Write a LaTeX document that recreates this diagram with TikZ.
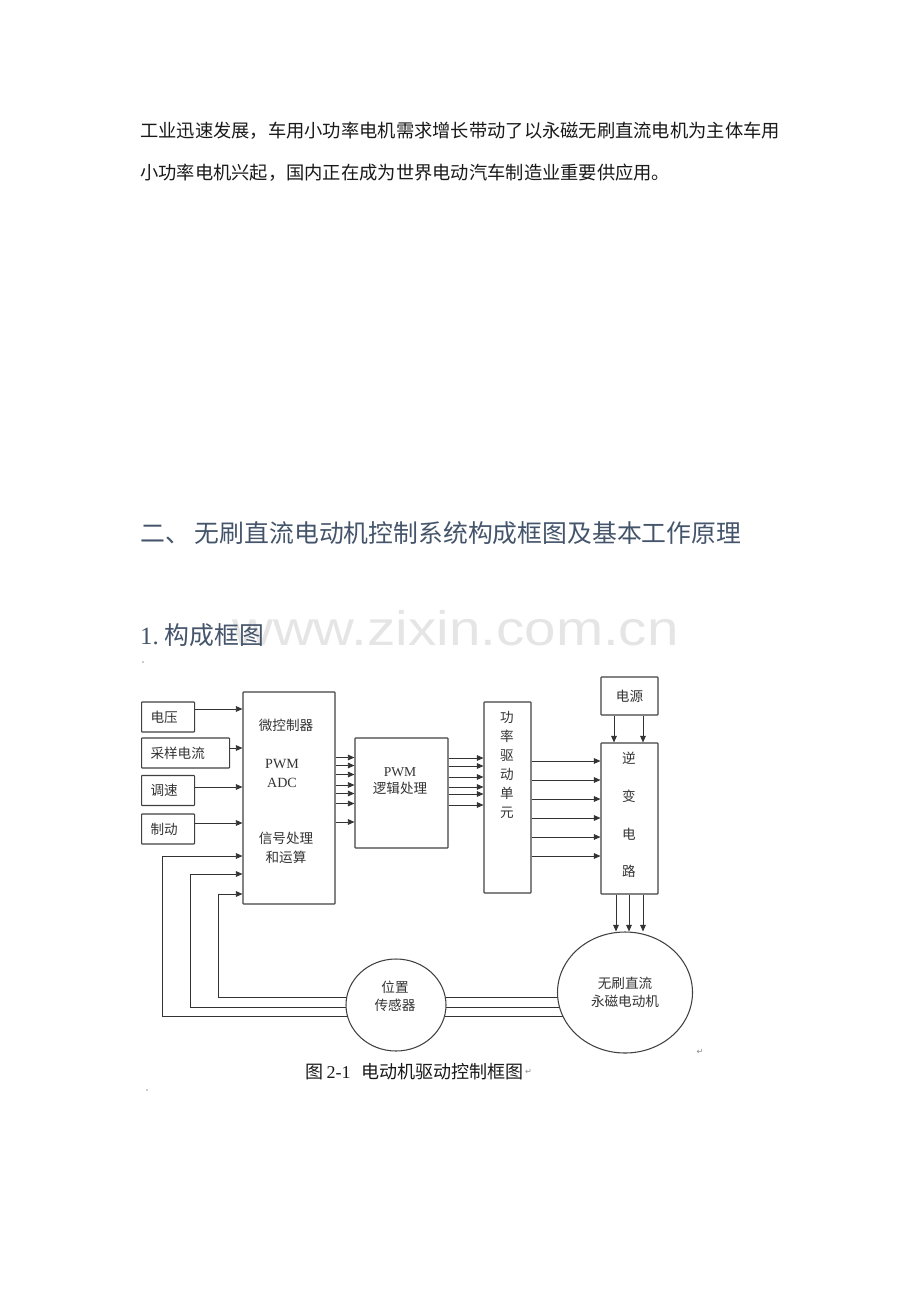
\documentclass[tikz,border=0pt]{standalone}
\usepackage{fontspec}
\setmainfont{Liberation Serif}
\newfontfamily\cjk{Noto Sans CJK SC}
\newfontfamily\wmfont{Liberation Sans}
\newfontfamily\symfont{DejaVu Sans}
\usetikzlibrary{arrows.meta,shapes.geometric,backgrounds}
\definecolor{headblue}{HTML}{44546A}
\newcommand{\px}{0.3mm}

\begin{document}
\begin{tikzpicture}[x=0.3mm,y=-0.3mm,
	box/.style={draw=black!75,line width=0.9pt,rounded corners=0.5pt,inner sep=0pt},
	inbox/.style={box,anchor=west,align=left,inner xsep=9*\px,minimum height=30*\px,
		font=\cjk\fontsize{11.6}{14}\selectfont,text=black!80},
	txt/.style={inner sep=0pt,align=center,text=black!80,font=\cjk\fontsize{11.6}{16.2}\selectfont},
	arr/.style={draw=black!80,line width=0.8pt,-{Triangle[length=2mm,width=1.7mm]}},
	fb/.style={draw=black!75,line width=0.9pt}]
	\useasboundingbox (0,0) rectangle (920,1302);

	% page text
	\node[anchor=base west,inner sep=0pt,text=black!10,
	font=\wmfont\fontsize{46}{46}\selectfont] (wm) at (232,645) {\scalebox{1.05}[0.9]{www.zixin.com.cn}};
	\node[anchor=west,inner sep=0pt,text=black!90,
	font=\cjk\fontsize{15.6}{18}\selectfont] (para1) at (140,131) {工业迅速发展，车用小功率电机需求增长带动了以永磁无刷直流电机为主体车用};
	\node[anchor=west,inner sep=0pt,text=black!90,
	font=\cjk\fontsize{15.6}{18}\selectfont] (para2) at (140,173) {小功率电机兴起，国内正在成为世界电动汽车制造业重要供应用。};
	\node[anchor=west,inner sep=0pt,text=headblue,
	font=\cjk\fontsize{21.2}{24}\selectfont] (sec) at (140,533) {二、\hspace{1.5mm}无刷直流电动机控制系统构成框图及基本工作原理};
	\node[anchor=west,inner sep=0pt,text=headblue,
	font=\cjk\fontsize{21.2}{24}\selectfont] (subsec) at (140,635) {{\rmfamily 1.}\hspace{1.8mm}构成框图};
	\fill[black!40] (143,662) circle (0.8);

	% input boxes
	\node[inbox,text width=35*\px] (volt) at (141,717) {电压};
	\node[inbox,text width=70*\px] (curr) at (141,753) {采样电流};
	\node[inbox,text width=35*\px] (speed) at (141,790.5) {调速};
	\node[inbox,text width=35*\px] (brake) at (141,829) {制动};

	% microcontroller
	\node[box,minimum width=92*\px,minimum height=212*\px] (mcu) at (289,798) {};
	\node[txt] (mcutitle) at (286,725) {微控制器};
	\node[txt,font=\rmfamily\fontsize{12}{16.2}\selectfont] (mcupwm) at (282,773.5) {PWM\\ADC};
	\node[txt] (mcusig) at (286,847.5) {信号处理\\和运算};

	% pwm logic
	\node[box,minimum width=93*\px,minimum height=110*\px] (pwm) at (401.5,793) {};
	\node[txt,font=\cjk\fontsize{11.6}{14.5}\selectfont] (pwmtxt) at (400,781.5) {{\rmfamily PWM}\\逻辑处理};

	% power drive unit
	\node[box,minimum width=47*\px,minimum height=191*\px] (drv) at (507.5,797.5) {};
	\node[txt] (drvtxt) at (507,764.5) {功\\率\\驱\\动\\单\\元};

	% supply and inverter
	\node[box,minimum width=57*\px,minimum height=38*\px,
	font=\cjk\fontsize{11.6}{14}\selectfont,text=black!80] (pwr) at (629.5,696) {电源};
	\node[box,minimum width=57*\px,minimum height=151*\px] (inv) at (629.5,818.5) {};
	\node[txt,font=\cjk\fontsize{11.6}{32.3}\selectfont] (invtxt) at (629,815) {逆\\变\\电\\路};

	% motor and sensor
	\node[ellipse,draw=black!75,line width=0.9pt,fill=white,inner sep=0pt,
	minimum width=135*\px,minimum height=121*\px,align=center,text=black!80,
	font=\cjk\fontsize{11.6}{15.3}\selectfont] (motor) at (625,992.5) {无刷直流\\永磁电动机};
	\node[ellipse,draw=black!75,line width=0.9pt,fill=white,inner sep=0pt,
	minimum width=100*\px,minimum height=92*\px] (sensor) at (396,1005) {};
	\node[txt,font=\cjk\fontsize{11.6}{15.3}\selectfont] (sentxt) at (395,996) {位置\\传感器};

	% connectors
	\draw[arr] (volt.east |- 0,709) -- (mcu.west |- 0,709);
	\draw[arr] (curr.east |- 0,748) -- (mcu.west |- 0,748);
	\draw[arr] (speed.east |- 0,787) -- (mcu.west |- 0,787);
	\draw[arr] (brake.east |- 0,823) -- (mcu.west |- 0,823);
	\foreach \y in {757.5,765.5,774.5,785,793.5,803.5,822}
	\draw[arr] (mcu.east |- 0,\y) -- (pwm.west |- 0,\y);
	\foreach \y in {758,766,777,787,794,805}
	\draw[arr] (pwm.east |- 0,\y) -- (drv.west |- 0,\y);
	\foreach \y in {761,780,799,818,837,856}
	\draw[arr] (drv.east |- 0,\y) -- (inv.west |- 0,\y);
	\foreach \x in {614,643}
	\draw[arr] (pwr.south -| \x,0) -- (inv.north -| \x,0);
	\foreach \x in {616,629,643}
	\draw[arr] (inv.south -| \x,0) -- (motor.north -| \x,0);

	% feedback from motor through sensor
	\begin{scope}[on background layer]
		\draw[fb,arr] (motor.center |- 0,997) -| (218,894) -- (mcu.west |- 0,894);
		\draw[fb,arr] (motor.center |- 0,1007) -| (190,874) -- (mcu.west |- 0,874);
		\draw[fb,arr] (motor.center |- 0,1016) -| (162,856) -- (mcu.west |- 0,856);
	\end{scope}

	% caption
	\node[anchor=west,inner sep=0pt,text=black!90,
	font=\cjk\fontsize{15.4}{18}\selectfont] (cap) at (305,1072) {图\hspace{1mm}{\rmfamily 2-1}\hspace{3.3mm}电动机驱动控制框图};
	\node[anchor=west,inner sep=0.5pt,text=black!45,
	font=\symfont\fontsize{7}{7}\selectfont] (ret1) at (cap.east) {↵};
	\node[inner sep=0pt,text=black!45,
	font=\symfont\fontsize{7}{7}\selectfont] (ret2) at (700,1052) {↵};
	\fill[black!40] (147,1090) circle (0.8);
\end{tikzpicture}
\end{document}
